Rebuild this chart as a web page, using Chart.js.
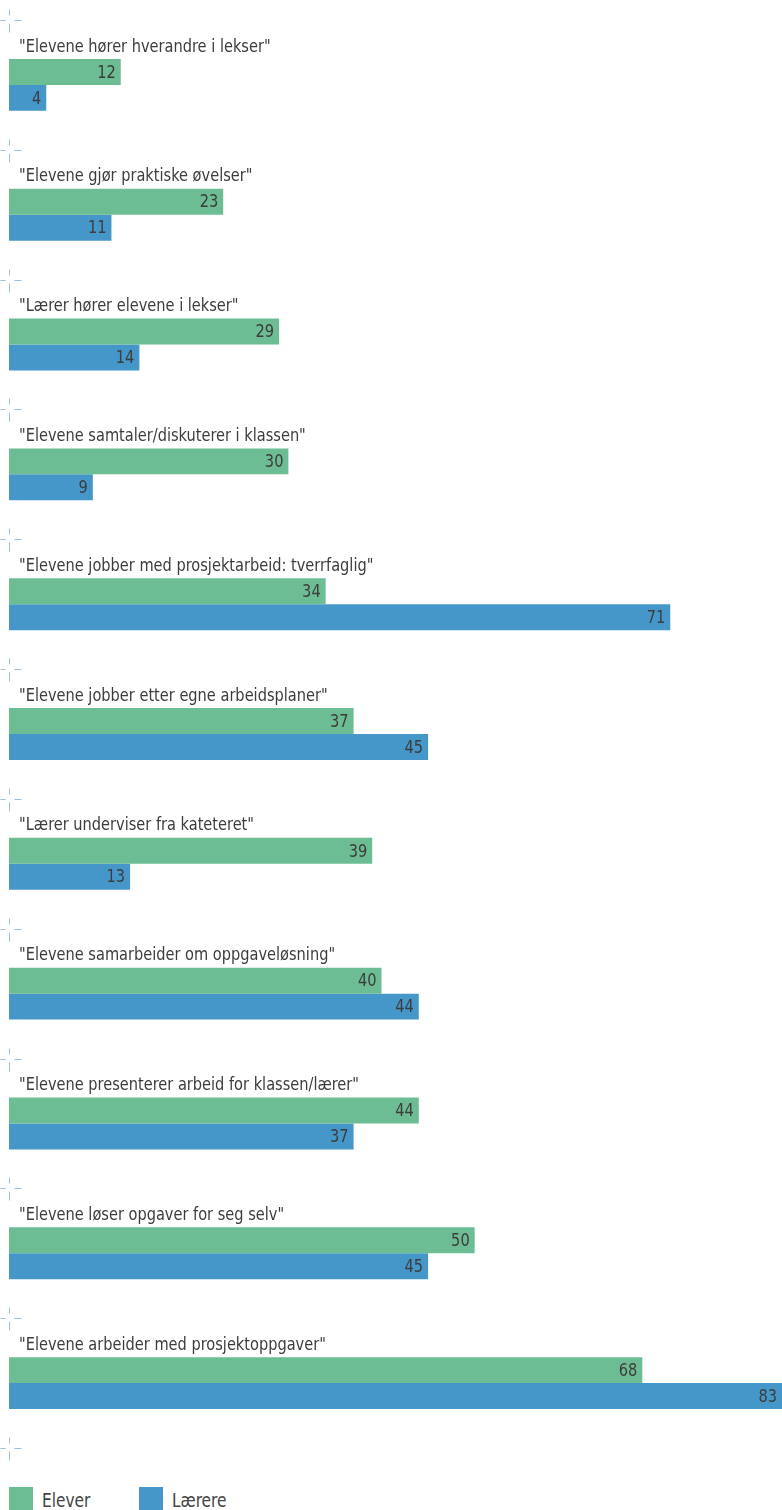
<!DOCTYPE html>
<html>
<head>
<meta charset="utf-8">
<script src="https://cdn.jsdelivr.net/npm/chart.js@4.4.1/dist/chart.umd.min.js"></script>
<style>
  html, body { margin: 0; padding: 0; background: #fff; overflow: hidden; }
  #wrap { position: relative; width: 782px; height: 1470px; }
  #legend { position: absolute; left: 9px; top: 1487px; font-family: 'DejaVu Sans Condensed', sans-serif; font-size: 19px; color: #444; white-space: nowrap; }
  #legend .item { display: inline-block; width: 130px; height: 24px; line-height: 27px; }
  #legend .box { display: inline-block; width: 24px; height: 24px; vertical-align: top; margin-right: 9px; }
  #legend .txt { display: inline-block; transform: scaleX(0.9); transform-origin: left center; }
</style>
</head>
<body>
<div id="wrap"><canvas id="chart"></canvas></div>
<div id="legend"></div>
<script>
// --- DONNÉES ---
const kategorier = [
  '"Elevene hører hverandre i lekser"',
  '"Elevene gjør praktiske øvelser"',
  '"Lærer hører elevene i lekser"',
  '"Elevene samtaler/diskuterer i klassen"',
  '"Elevene jobber med prosjektarbeid: tverrfaglig"',
  '"Elevene jobber etter egne arbeidsplaner"',
  '"Lærer underviser fra kateteret"',
  '"Elevene samarbeider om oppgaveløsning"',
  '"Elevene presenterer arbeid for klassen/lærer"',
  '"Elevene løser opgaver for seg selv"',
  '"Elevene arbeider med prosjektoppgaver"'
];
const elever  = [12, 23, 29, 30, 34, 37, 39, 40, 44, 50, 68];
const laerere = [4, 11, 14, 9, 71, 45, 13, 44, 37, 45, 83];

const FONT = "'DejaVu Sans Condensed', sans-serif";
const GRONN = '#6dbd94';
const BLA = '#4597ca';
const SERRE = 0.9; // resserre le texte horizontalement

function texte(ctx, txt, x, y) {
  ctx.save();
  ctx.translate(x, y);
  ctx.scale(SERRE, 1);
  ctx.fillText(txt, 0, 0);
  ctx.restore();
}

// Petites croix pointillées aux limites de catégories + titres au-dessus des barres
const decorPlugin = {
  id: 'decor',
  afterDatasetsDraw(chart) {
    const ctx = chart.ctx;
    const y = chart.scales.y;
    const x0 = chart.scales.x.getPixelForValue(0);
    ctx.save();
    ctx.strokeStyle = '#9dbfd5';
    ctx.lineWidth = 1;
    for (let i = 0; i <= kategorier.length; i++) {
      const py = Math.round(y.getPixelForValue(i - 0.5)) + 0.5;
      const px = Math.round(x0) + 0.5;
      ctx.beginPath();
      ctx.moveTo(px - 9, py); ctx.lineTo(px - 4, py);
      ctx.moveTo(px + 5, py); ctx.lineTo(px + 12, py);
      ctx.moveTo(px, py - 11); ctx.lineTo(px, py - 5);
      ctx.moveTo(px, py + 3); ctx.lineTo(px, py + 12);
      ctx.stroke();
    }
    ctx.fillStyle = '#3c3c3c';
    ctx.font = '18px ' + FONT;
    ctx.textBaseline = 'middle';
    ctx.textAlign = 'left';
    kategorier.forEach((txt, i) => {
      texte(ctx, txt, x0 + 10, y.getPixelForValue(i) - 38);
    });
    // valeurs à l'intérieur de l'extrémité des barres
    ctx.textAlign = 'right';
    chart.data.datasets.forEach((ds, di) => {
      chart.getDatasetMeta(di).data.forEach((bar, i) => {
        texte(ctx, ds.data[i], bar.x - 5, bar.y + 1);
      });
    });
    ctx.restore();
  }
};

const chart = new Chart(document.getElementById('chart'), {
  type: 'bar',
  data: {
    labels: kategorier,
    datasets: [
      { label: 'Elever', data: elever, backgroundColor: GRONN },
      { label: 'Lærere', data: laerere, backgroundColor: BLA }
    ]
  },
  options: {
    indexAxis: 'y',
    responsive: true,
    maintainAspectRatio: false,
    animation: false,
    layout: { padding: { top: 20, left: 9, right: 0, bottom: 22 } },
    datasets: { bar: { categoryPercentage: 0.4, barPercentage: 1.0 } },
    scales: {
      x: { display: false, min: 0, max: 83 },
      y: { display: false }
    },
    plugins: {
      legend: { display: false },
      tooltip: { enabled: false }
    }
  },
  plugins: [decorPlugin]
});

// Légende HTML
document.getElementById('legend').innerHTML = chart.data.datasets.map(ds =>
  `<span class="item"><span class="box" style="background:${ds.backgroundColor}"></span><span class="txt">${ds.label}</span></span>`
).join('');
</script>
</body>
</html>
